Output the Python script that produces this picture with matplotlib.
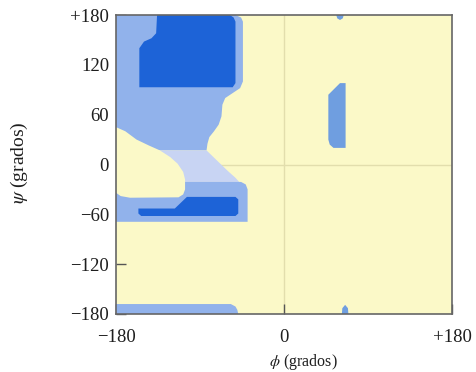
import matplotlib
matplotlib.use("Agg")
import matplotlib.pyplot as plt

# ---- data: region outlines (phi, psi) in degrees ----
light_upper_phi = [-180, -52, -46, -44, -44, -47, -55, -63, -66, -67, -70, -75, -80, -82, -83, -180]
light_upper_psi = [180, 180, 177, 172, 100, 92, 86, 80, 72, 58, 48, 40, 33, 25, 17, 17]

lavender_phi = [-180, -83, -72, -60, -52, -48, -180]
lavender_psi = [17, 17, 5, -8, -16, -21, -21]

light_lower_phi = [-180, -46, -41, -39, -39, -180]
light_lower_psi = [-21, -21, -24, -30, -69, -69]

blob_phi = [-180, -170, -158, -145, -133, -122, -114, -108, -106, -106, -108, -113, -165, -175, -180]
blob_psi = [45, 40, 30, 23, 17, 9, 1, -9, -18, -30, -36, -39.5, -40, -38, -34]

dark_lower_phi = [-156, -117, -104, -52, -49, -49, -52, -153, -156]
dark_lower_psi = [-53, -53, -39, -39, -42, -59, -62, -62, -59]

dark_upper_phi = [-136, -58, -54, -52, -52, -55, -155, -155, -150, -142, -137]
dark_upper_psi = [180, 180, 177, 172, 98, 93, 93, 140, 148, 152, 158]

right_phi = [47.5, 60, 66, 66, 53, 49, 47.5]
right_psi = [84, 98, 98, 20, 20, 24, 30]

top_bit_phi = [56, 57, 60, 63, 64]
top_bit_psi = [180, 176, 174, 176, 180]

bottom_bit_phi = [62, 62.5, 65.5, 68.5, 69]
bottom_bit_psi = [-180, -173, -169, -173, -180]

strip_phi = [-180, -57, -52, -50, -49, -180]
strip_psi = [-168, -168, -171, -175, -180, -180]

x_ticks = [-180, 0, 180]
x_labels = ["\u2212180", "0", "+180"]
y_ticks = [-180, -120, -60, 0, 60, 120, 180]
y_labels = ["\u2212180", "\u2212120", "\u221260", "0", "60", "120", "+180"]

# ---- style ----
plt.rcParams['font.family'] = ['Liberation Serif', 'DejaVu Serif']
plt.rcParams['mathtext.fontset'] = 'stix'

YELLOW = "#fbf9c8"
LIGHT = "#91b2eb"
LAV = "#c8d4f3"
DARK = "#1d63d7"
MID = "#6f9ee0"
TXT = "#1e1e1e"

fig = plt.figure(figsize=(4.77, 3.72), dpi=100)
ax = fig.add_axes([116 / 477, 58 / 372, 336 / 477, 299 / 372])
ax.set_facecolor(YELLOW)

ax.axhline(0, color="#e2dead", lw=1.0, zorder=1)
ax.axvline(0, color="#e2dead", lw=1.0, zorder=1)

ax.fill(light_upper_phi, light_upper_psi, color=LIGHT, lw=0, zorder=2)
ax.fill(lavender_phi, lavender_psi, color=LAV, lw=0, zorder=2)
ax.fill(light_lower_phi, light_lower_psi, color=LIGHT, lw=0, zorder=2)
ax.fill(blob_phi, blob_psi, color=YELLOW, lw=0, zorder=3)
ax.fill(dark_lower_phi, dark_lower_psi, color=DARK, lw=0, zorder=4)
ax.fill(dark_upper_phi, dark_upper_psi, color=DARK, lw=0, zorder=4)
ax.fill(right_phi, right_psi, color=MID, lw=0, zorder=4)
ax.fill(top_bit_phi, top_bit_psi, color=MID, lw=0, zorder=4)
ax.fill(bottom_bit_phi, bottom_bit_psi, color=MID, lw=0, zorder=4)
ax.fill(strip_phi, strip_psi, color=LIGHT, lw=0, zorder=4)

ax.set_xlim(-180, 180)
ax.set_ylim(-180, 180)
ax.set_xticks(x_ticks)
ax.set_xticklabels(x_labels)
ax.set_yticks(y_ticks)
ax.set_yticklabels(y_labels)
ax.tick_params(direction="in", length=7, width=1, color="#555555",
               labelsize=13.5, labelcolor=TXT)
ax.tick_params(axis="x", pad=11)
ax.tick_params(axis="y", pad=5)

for s in ax.spines.values():
    s.set_color("#666666")
    s.set_linewidth(1.2)
    s.set_zorder(6)

ax.set_xlabel(r"$\phi$ (grados)", fontsize=11.5, color=TXT)
ax.set_ylabel(r"$\psi$ (grados)", fontsize=14, color=TXT)
ax.xaxis.set_label_coords(0.557, -0.162)
ax.yaxis.set_label_coords(-0.286, 0.505)
ax.xaxis.label.set_va("center")
ax.yaxis.label.set_va("center")

fig.savefig("out.png", dpi=100)
